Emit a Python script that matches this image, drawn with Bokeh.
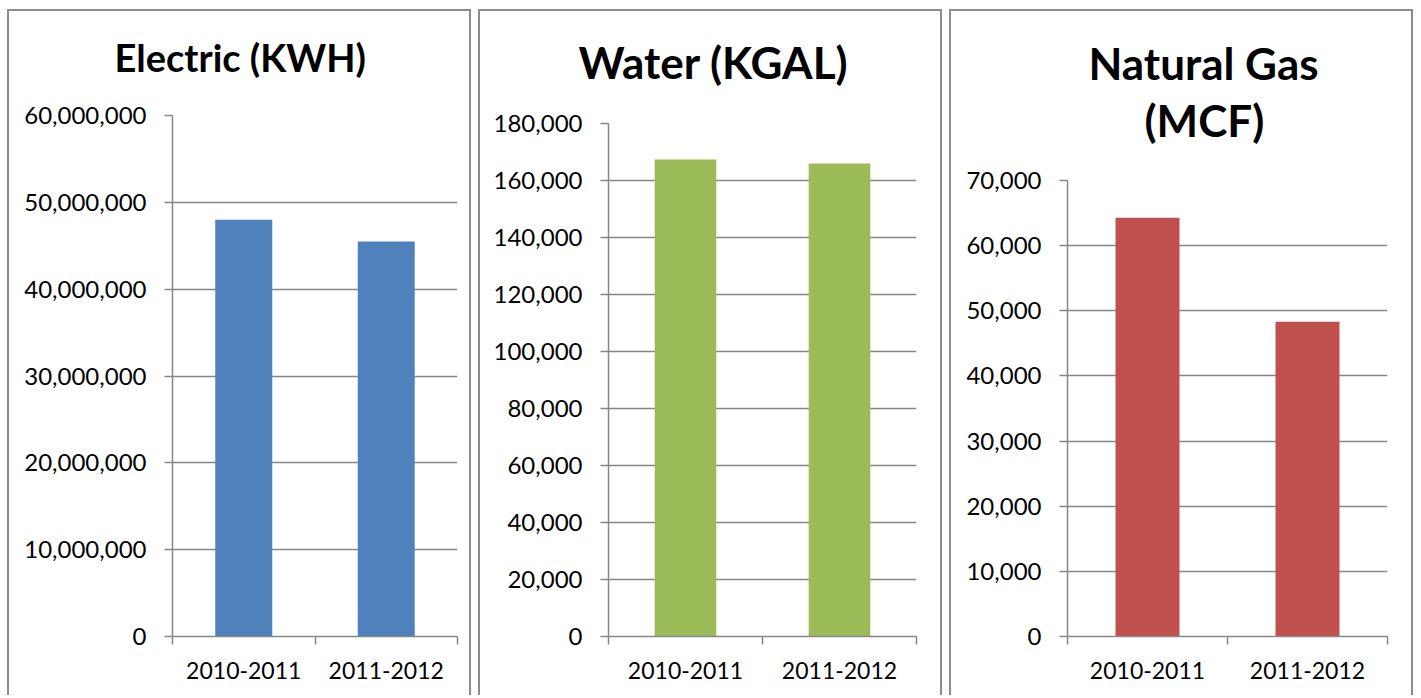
from bokeh.plotting import figure
from bokeh.layouts import row
from bokeh.models import FixedTicker, SingleIntervalTicker, NumeralTickFormatter, Title, Range1d
from bokeh.embed import file_html
from bokeh.resources import INLINE

categories = ["2010-2011", "2011-2012"]
electric_kwh = [48_000_000, 45_500_000]
water_kgal = [167_400, 166_000]
gas_mcf = [64_300, 48_300]

FONT = "Lato"
GRID = "#868686"

def panel(titles, values, color, ymax, step, borders, title_size, gap, title_specs):
    left, right, top, bottom = borders
    p = figure(width=464, height=686, output_backend="svg", toolbar_location=None,
               x_range=Range1d(0, len(categories)), y_range=Range1d(0, ymax),
               min_border_left=left, min_border_right=right,
               min_border_top=top, min_border_bottom=bottom)
    p.frame_align = False
    p.styles = {"border": "2px solid #8c8c8c", "border-bottom": "none"}
    p.outline_line_color = None
    p.background_fill_color = "white"
    p.border_fill_color = "white"
    xs = [i + 0.5 for i in range(len(categories))]
    p.vbar(x=xs, top=values, width=0.4, bottom=0, fill_color=color, line_color=None)
    p.title = None
    # white (invisible) spacer between frame and title
    p.add_layout(Title(text=".", text_font_size="6px", text_color="white", standoff=gap), "above")
    for t, (off, so) in zip(titles, title_specs):
        p.add_layout(Title(text=t, align="left", text_font=FONT, text_font_size=title_size,
                           text_font_style="bold", text_color="black", offset=off,
                           standoff=so), "above")
    ya = p.yaxis[0]
    ya.ticker = SingleIntervalTicker(interval=step)
    ya.formatter = NumeralTickFormatter(format="0,0")
    ya.axis_line_color = GRID
    ya.axis_line_width = 1.5
    ya.major_tick_line_color = GRID
    ya.major_tick_line_width = 1.5
    ya.major_tick_in = 0
    ya.major_tick_out = 8
    ya.minor_tick_line_color = None
    ya.major_label_standoff = 18
    ya.major_label_text_font = FONT
    ya.major_label_text_font_size = "24px"
    ya.major_label_text_color = "black"
    xa = p.xaxis[0]
    xa.ticker = FixedTicker(ticks=xs, minor_ticks=list(range(len(categories) + 1)))
    xa.major_label_overrides = {x: c for x, c in zip(xs, categories)}
    xa.axis_line_color = GRID
    xa.axis_line_width = 1.5
    xa.major_tick_line_color = None
    xa.major_tick_in = 0
    xa.major_tick_out = 0
    xa.minor_tick_line_color = GRID
    xa.minor_tick_line_width = 1.5
    xa.minor_tick_in = 0
    xa.minor_tick_out = 8
    xa.major_label_standoff = 17
    xa.major_label_text_font = FONT
    xa.major_label_text_font_size = "23px"
    xa.major_label_text_color = "black"
    p.xgrid.grid_line_color = None
    p.ygrid.grid_line_color = GRID
    p.ygrid.grid_line_width = 1.5
    return p

p1 = panel(["Electric (KWH)"], electric_kwh, "#4F81BD", 60_000_000, 10_000_000,
           (163, 16, 104, 61), "38px", 30, [(-58, 0)])
p2 = panel(["Water (KGAL)"], water_kgal, "#9BBB59", 180_000, 20_000,
           (128, 28, 112, 61), "44px", 30, [(-30, 0)])
p3 = panel(["(MCF)", "Natural Gas"], gas_mcf, "#C0504D", 70_000, 10_000,
           (116, 28, 169, 61), "44px", 29, [(77, 0), (21, 6)])

layout = row(p1, p2, p3, spacing=7)
layout.styles = {"margin-left": "7px", "margin-top": "9px"}
open("out.html", "w").write(file_html(layout, INLINE))
